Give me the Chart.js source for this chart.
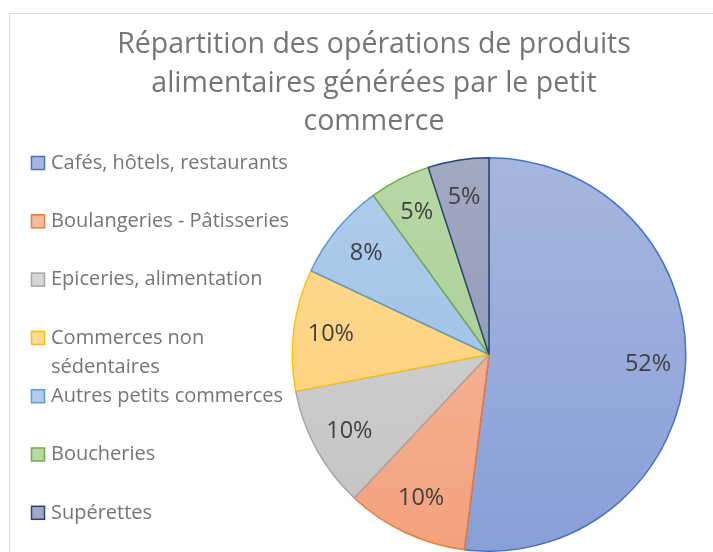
<!DOCTYPE html>
<html>
<head>
<meta charset="utf-8">
<script src="https://cdn.jsdelivr.net/npm/chart.js@4.4.0/dist/chart.umd.min.js"></script>
<style>
  html, body { margin: 0; padding: 0; background: #fff; }
</style>
</head>
<body>
<canvas id="camembert" width="713" height="552"></canvas>
<script>
const titre = ['Répartition des opérations de produits', 'alimentaires générées par le petit', 'commerce'];
const categories = ['Cafés, hôtels, restaurants', 'Boulangeries - Pâtisseries', 'Epiceries, alimentation',
  ['Commerces non', 'sédentaires'], 'Autres petits commerces', 'Boucheries', 'Supérettes'];
const parts = [52, 10, 10, 10, 8, 5, 5];

const contours = ['#4472C4', '#ED7D31', '#A5A5A5', '#FFC000', '#5B9BD5', '#70AD47', '#264478'];
const hauts = ['#a7b6de', '#f6bca4', '#d6d6d6', '#ffdb94', '#b0cdeb', '#b8d8a6', '#a2aac2'];
const bas = ['#889fd7', '#f3a27d', '#c3c3c3', '#fdcf76', '#97bce6', '#a4ca8e', '#868fae'];

const police = '"Open Sans", "Noto Sans", sans-serif';

function degrade(context) {
  const chart = context.chart;
  const i = context.dataIndex;
  const zone = chart.chartArea;
  if (!zone) return hauts[i];
  const g = chart.ctx.createLinearGradient(0, zone.top, 0, zone.bottom);
  g.addColorStop(0, hauts[i]);
  g.addColorStop(1, bas[i]);
  return g;
}

const habillage = {
  id: 'habillage',
  beforeDraw(chart) {
    const c = chart.ctx;
    c.save();
    c.strokeStyle = '#d9d9d9';
    c.lineWidth = 1;
    c.strokeRect(9.5, 13.5, 760, 600);
    c.restore();
  },
  afterDraw(chart) {
    const c = chart.ctx;
    c.save();
    // titre
    c.fillStyle = '#757575';
    c.font = '28.5px ' + police;
    c.textAlign = 'center';
    c.textBaseline = 'middle';
    titre.forEach((ligne, k) => c.fillText(ligne, 374, 45 + k * 38.5));

    // légende
    c.font = '20px ' + police;
    c.textAlign = 'left';
    categories.forEach((lab, i) => {
      const y = 163 + i * 58.3;
      c.fillStyle = hauts[i];
      c.fillRect(31.5, y - 6.5, 13, 13);
      c.strokeStyle = contours[i];
      c.lineWidth = 1.5;
      c.strokeRect(31.5, y - 6.5, 13, 13);
      c.fillStyle = '#757575';
      const lignes = Array.isArray(lab) ? lab : [lab];
      lignes.forEach((l, k) => c.fillText(l, 51, y + k * 29));
    });

    // pourcentages
    const meta = chart.getDatasetMeta(0);
    const total = parts.reduce((a, b) => a + b, 0);
    c.fillStyle = '#404040';
    c.font = '23.5px ' + police;
    c.textAlign = 'center';
    meta.data.forEach((arc, i) => {
      const p = arc.getProps(['x', 'y', 'startAngle', 'endAngle', 'outerRadius'], true);
      const mid = (p.startAngle + p.endAngle) / 2;
      const r = p.outerRadius * 0.81;
      const txt = Math.round(parts[i] / total * 100) + '%';
      c.fillText(txt, p.x + Math.cos(mid) * r, p.y + Math.sin(mid) * r);
    });
    c.restore();
  }
};

new Chart(document.getElementById('camembert'), {
  type: 'pie',
  data: {
    labels: categories,
    datasets: [{
      data: parts,
      backgroundColor: degrade,
      borderColor: contours,
      borderWidth: 1.5
    }]
  },
  options: {
    responsive: false,
    animation: false,
    devicePixelRatio: 1,
    layout: { padding: { left: 291, right: 26, top: 157, bottom: 0 } },
    plugins: {
      legend: { display: false },
      title: { display: false },
      tooltip: { enabled: false }
    }
  },
  plugins: [habillage]
});
</script>
</body>
</html>
